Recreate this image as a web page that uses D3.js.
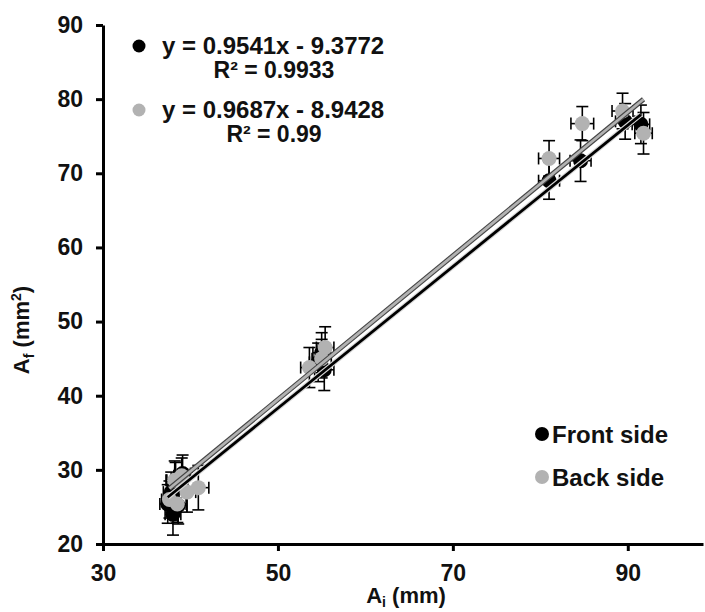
<!DOCTYPE html>
<html>
<head>
<meta charset="utf-8">
<script src="https://cdn.jsdelivr.net/npm/d3@7"></script>
<style>
  body { margin: 0; background: #fff; }
  text { font-family: "Liberation Sans", Arial, sans-serif; font-weight: bold; }
</style>
</head>
<body>
<svg id="chart" width="705" height="612"></svg>
<script>
// measured values (A_i in mm, A_f in mm²)
const frontX = [37.4, 38.0, 38.6, 37.8, 38.3, 39.1, 54.6, 55.3, 55.0, 81.0, 84.6, 89.7, 91.5];
const frontY = [25.4, 24.0, 25.2, 27.0, 28.6, 29.5, 44.5, 43.5, 45.8, 69.0, 71.7, 77.0, 76.6];
const frontXErr = [0.9, 0.9, 1.0, 0.9, 1.0, 0.9, 1.0, 1.1, 1.0, 1.2, 1.2, 1.1, 1.0];
const frontYErr = [2.6, 2.8, 2.5, 2.7, 2.4, 2.5, 2.6, 2.8, 2.7, 2.5, 2.8, 2.4, 2.6];

const backX = [37.6, 38.2, 39.0, 39.6, 38.5, 40.9, 53.6, 55.0, 55.4, 81.0, 84.8, 89.4, 91.8];
const backY = [26.0, 28.6, 29.2, 27.0, 25.4, 27.6, 43.8, 45.0, 46.5, 72.0, 76.7, 78.4, 75.4];
const backXErr = [0.9, 1.0, 0.9, 1.0, 1.0, 1.2, 1.0, 1.1, 1.0, 1.2, 1.3, 1.2, 1.0];
const backYErr = [2.5, 2.6, 2.4, 2.7, 2.5, 3.0, 2.7, 2.6, 2.8, 2.4, 2.3, 2.4, 2.8];

const fits = [
  { slope: 0.9541, icept: -9.3772, eq: "y = 0.9541x - 9.3772", r2: "R² = 0.9933" },
  { slope: 0.9687, icept: -8.9428, eq: "y = 0.9687x - 8.9428", r2: "R² = 0.99" }
];
const seriesNames = ["Front side", "Back side"];
const xTicks = [30, 50, 70, 90];
const yTicks = [20, 30, 40, 50, 60, 70, 80, 90];

const colors = ["#000000", "#b2b2b2"];

const svg = d3.select("#chart");
const x = d3.scaleLinear().domain([30, 98.6]).range([103, 703]);
const y = d3.scaleLinear().domain([20, 90]).range([544, 25]);

// axes
const xAxis = d3.axisBottom(x).tickValues(xTicks).tickSize(7).tickSizeOuter(0).tickPadding(14);
const yAxis = d3.axisLeft(y).tickValues(yTicks).tickSize(7).tickSizeOuter(0).tickPadding(13);

const gx = svg.append("g").attr("transform", "translate(0,544)").call(xAxis);
const gy = svg.append("g").attr("transform", "translate(103,0)").call(yAxis);
[gx, gy].forEach(g => {
  g.select(".domain").attr("stroke", "#000").attr("stroke-width", 3);
  g.selectAll(".tick line").attr("stroke", "#000").attr("stroke-width", 3);
  g.selectAll(".tick text").attr("fill", "#111").style("font-size", "23px")
    .style("font-family", "Liberation Sans, Arial, sans-serif").style("font-weight", "bold");
});

// series
const series = [
  { xs: frontX, ys: frontY, ex: frontXErr, ey: frontYErr },
  { xs: backX, ys: backY, ex: backXErr, ey: backYErr }
];

series.forEach((s, k) => {
  const pts = s.xs.map((v, i) => ({ x: v, y: s.ys[i], ex: s.ex[i], ey: s.ey[i] }));
  const g = svg.append("g");
  const eb = g.append("g").attr("stroke", "#000").attr("stroke-width", 1.6);
  const cap = 6;
  pts.forEach(d => {
    const cx = x(d.x), cy = y(d.y);
    const x0 = x(d.x - d.ex), x1 = x(d.x + d.ex);
    const y0 = y(d.y - d.ey), y1 = y(d.y + d.ey);
    eb.append("line").attr("x1", cx).attr("x2", cx).attr("y1", y0).attr("y2", y1);
    eb.append("line").attr("x1", cx - cap).attr("x2", cx + cap).attr("y1", y0).attr("y2", y0);
    eb.append("line").attr("x1", cx - cap).attr("x2", cx + cap).attr("y1", y1).attr("y2", y1);
    eb.append("line").attr("x1", x0).attr("x2", x1).attr("y1", cy).attr("y2", cy);
    eb.append("line").attr("x1", x0).attr("x2", x0).attr("y1", cy - cap).attr("y2", cy + cap);
    eb.append("line").attr("x1", x1).attr("x2", x1).attr("y1", cy - cap).attr("y2", cy + cap);
  });
  g.selectAll("circle").data(pts).join("circle")
    .attr("cx", d => x(d.x)).attr("cy", d => y(d.y))
    .attr("r", 7.5).attr("fill", colors[k]);
});

// trendlines
series.forEach((s, k) => {
  const f = fits[k];
  const lo = d3.min(s.xs), hi = d3.max(s.xs);
  const line = [[lo, f.slope * lo + f.icept], [hi, f.slope * hi + f.icept]];
  const gen = d3.line().x(d => x(d[0])).y(d => y(d[1]));
  if (k === 1) {
    svg.append("path").attr("d", gen(line)).attr("stroke", "#444").attr("stroke-width", 5).attr("fill", "none");
    svg.append("path").attr("d", gen(line)).attr("stroke", colors[1]).attr("stroke-width", 2.8).attr("fill", "none");
  } else {
    svg.append("path").attr("d", gen(line)).attr("stroke", "#d8d8d8").attr("stroke-width", 5).attr("fill", "none");
    svg.append("path").attr("d", gen(line)).attr("stroke", "#000").attr("stroke-width", 2.8).attr("fill", "none");
  }
});

// equations
const eqTop = [54, 118];
fits.forEach((f, k) => {
  svg.append("circle").attr("cx", 139).attr("cy", eqTop[k] - 8).attr("r", 6.5).attr("fill", colors[k]);
  svg.append("text").attr("x", 162).attr("y", eqTop[k]).style("font-size", "24px").attr("fill", "#111").text(f.eq);
  svg.append("text").attr("x", 274).attr("y", eqTop[k] + 24).attr("text-anchor", "middle")
    .style("font-size", "23px").attr("fill", "#111").text(f.r2);
});

// legend
seriesNames.forEach((n, k) => {
  const ly = 443 + k * 43;
  svg.append("circle").attr("cx", 542).attr("cy", ly - 9).attr("r", 7).attr("fill", colors[k]);
  svg.append("text").attr("x", 552).attr("y", ly).style("font-size", "24px").attr("fill", "#111").text(n);
});

// axis titles
const xt = svg.append("text").attr("x", 406).attr("y", 603).attr("text-anchor", "middle")
  .style("font-size", "22px").attr("fill", "#111");
xt.append("tspan").text("A");
xt.append("tspan").attr("dy", 4).style("font-size", "14px").text("i");
xt.append("tspan").attr("dy", -4).text(" (mm)");

const yt = svg.append("text").attr("transform", "translate(29,330) rotate(-90)").attr("text-anchor", "middle")
  .style("font-size", "22px").attr("fill", "#111");
yt.append("tspan").text("A");
yt.append("tspan").attr("dy", 5).style("font-size", "14px").text("f");
yt.append("tspan").attr("dy", -5).text(" (mm");
yt.append("tspan").attr("dy", -8).style("font-size", "14px").text("2");
yt.append("tspan").attr("dy", 8).text(")");
</script>
</body>
</html>
